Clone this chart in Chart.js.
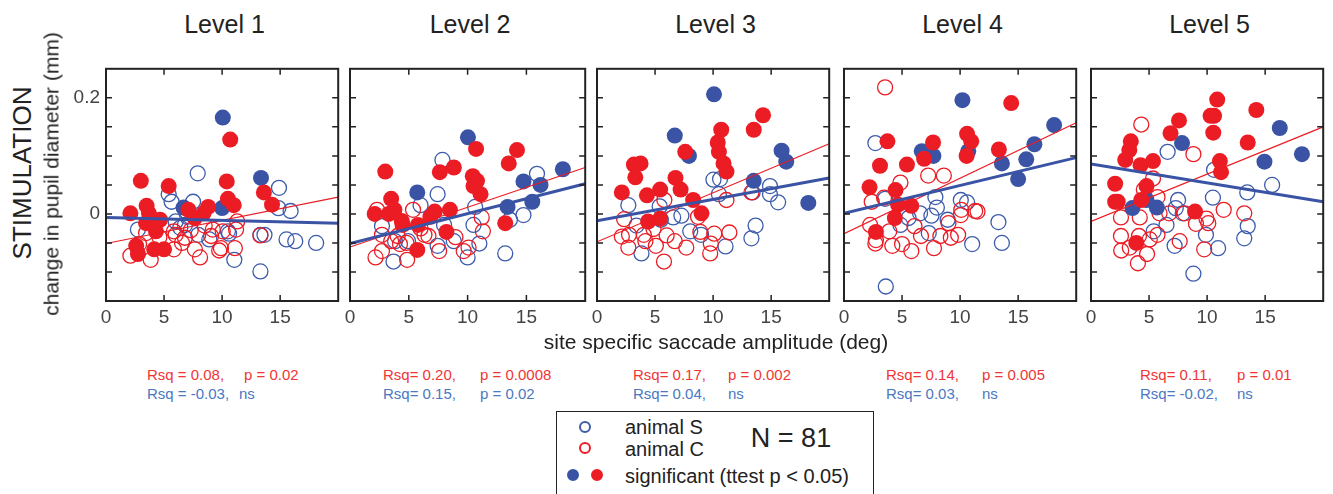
<!DOCTYPE html>
<html>
<head>
<meta charset="utf-8">
<script src="https://cdn.jsdelivr.net/npm/chart.js@4.4.1/dist/chart.umd.min.js"></script>
<style>
  body { margin: 0; background: #fff; font-family: "Liberation Sans", Arial, sans-serif; }
  #wrap { position: relative; width: 1333px; height: 494px; overflow: hidden; }
  canvas { position: absolute; }
  .txt { position: absolute; white-space: pre; color: #222; z-index: 2; }
  .mid { transform: translate(-50%, -50%); }
  .lft { transform: translateY(-50%); }
  .rot { transform: translate(-50%, -50%) rotate(-90deg); }
  #legend { position: absolute; left: 556px; top: 411px; width: 316px; height: 100px; border: 1.5px solid #222; background: #fff; z-index: 2; }
  .dot { position: absolute; width: 12px; height: 12px; border-radius: 50%; box-sizing: border-box; transform: translate(-50%, -50%); z-index: 3; }
</style>
</head>
<body>
<div id="wrap"><div id="legend"></div></div>
<script>
// panel titles
const levels = ['Level 1', 'Level 2', 'Level 3', 'Level 4', 'Level 5'];

// animal S (blue): open = not significant, sig = filled
const sOpen1 = [[7.9,0.070],[14.9,0.045],[5.4,0.034],[5.65,0.021],[7.5,0.021],[6.0,-0.013],[2.75,-0.027],[14.85,0.010],[15.9,0.005],[13.3,-0.036],[13.65,-0.036],[15.55,-0.044],[16.3,-0.047],[18.1,-0.050],[13.3,-0.099],[11.05,-0.079],[10.6,-0.034],[8.9,-0.044],[7.95,-0.036],[6.8,-0.019],[6.4,-0.024],[10.5,-0.030],[7.0,-0.005]];
const sSig1 = [[10.06,0.166],[13.35,0.062],[6.68,0.011],[10.0,0.010]];
const sOpen2 = [[7.86,0.093],[15.9,0.069],[7.45,0.034],[10.64,0.012],[10.5,-0.019],[14.75,-0.002],[13.6,-0.010],[2.72,-0.021],[6.0,0.015],[11.0,-0.051],[10.0,-0.075],[13.2,-0.068],[3.7,-0.082],[7.45,-0.055],[8.83,-0.047],[8.0,-0.019],[3.83,-0.047],[4.94,-0.047]];
const sSig2 = [[10.03,0.132],[5.72,0.037],[14.75,0.056],[16.2,0.050],[18.1,0.077],[13.4,0.012],[15.5,0.021]];
const sOpen3 = [[10.03,0.059],[10.6,0.060],[10.5,0.034],[13.4,0.037],[14.9,0.048],[14.9,0.034],[15.6,0.020],[2.7,0.015],[7.27,-0.003],[6.56,-0.006],[5.4,0.013],[13.66,-0.020],[13.3,-0.042],[11.07,-0.056],[3.83,-0.068],[8.03,-0.030],[8.96,-0.036],[3.4,-0.020],[5.5,-0.010]];
const sSig3 = [[10.08,0.206],[6.7,0.135],[7.92,0.100],[15.9,0.109],[16.3,0.090],[13.5,0.057],[18.2,0.019]];
const sOpen4 = [[2.7,0.122],[3.54,0.026],[7.87,0.029],[8.0,0.011],[10.06,0.024],[10.6,0.020],[7.53,-0.003],[6.55,0.001],[5.56,-0.007],[4.86,-0.019],[8.93,-0.010],[7.3,-0.033],[13.3,-0.014],[13.6,-0.050],[11.04,-0.052],[3.6,-0.125]];
const sSig4 = [[10.2,0.196],[18.1,0.153],[16.4,0.120],[15.7,0.094],[13.6,0.087],[15.0,0.060],[6.7,0.108],[7.7,0.100],[10.7,0.108]];
const sOpen5 = [[6.6,0.107],[10.6,0.076],[15.6,0.050],[13.46,0.037],[10.5,0.028],[7.5,0.024],[7.3,0.010],[7.9,0.001],[6.5,-0.019],[5.4,-0.030],[13.5,-0.021],[9.9,-0.036],[13.2,-0.042],[7.2,-0.055],[10.95,-0.059],[8.82,-0.103]];
const sSig5 = [[7.84,0.122],[16.26,0.148],[18.17,0.103],[14.94,0.090],[3.57,0.010],[5.67,0.011],[4.78,0.024]];

// animal C (red)
const cOpen1 = [[2.1,-0.072],[3.85,-0.079],[5.85,-0.061],[7.65,-0.061],[8.1,-0.075],[9.75,-0.063],[9.9,-0.059],[11.1,-0.059],[11.3,-0.013],[11.2,-0.027],[10.05,-0.030],[9.2,-0.027],[9.05,-0.038],[6.8,-0.041],[6.0,-0.036],[3.45,-0.033],[2.85,-0.052],[6.55,-0.050],[13.3,-0.037],[5.85,-0.030],[8.5,-0.020],[4.6,-0.040],[7.3,-0.028]];
const cSig1 = [[10.7,0.128],[3.0,0.057],[5.4,0.048],[10.4,0.056],[10.5,0.026],[11.0,0.015],[13.6,0.037],[14.3,0.016],[2.1,0.001],[3.5,0.014],[3.7,0.001],[4.65,-0.010],[3.45,-0.016],[4.3,-0.030],[2.6,-0.055],[2.75,-0.069],[4.15,-0.061],[5.0,-0.061],[7.1,0.007],[7.65,-0.007],[8.8,0.012],[8.4,0.001]];
const cOpen2 = [[2.17,-0.075],[2.72,-0.064],[4.86,-0.079],[7.58,-0.064],[9.67,-0.064],[10.08,-0.058],[11.3,-0.030],[11.2,-0.006],[2.3,0.007],[5.36,0.007],[4.05,-0.038],[4.25,-0.052],[4.8,-0.050],[6.33,-0.036],[6.67,-0.038],[8.97,-0.040],[2.72,-0.036],[3.5,-0.047],[6.0,-0.025]];
const cSig2 = [[10.72,0.112],[14.2,0.110],[13.5,0.087],[3.0,0.073],[7.64,0.072],[8.83,0.080],[10.44,0.065],[10.8,0.057],[10.5,0.048],[11.1,0.034],[3.5,0.026],[2.1,0.0],[3.3,0.0],[3.78,0.007],[4.4,-0.012],[4.47,-0.019],[5.78,-0.019],[7.2,0.004],[6.83,-0.005],[8.5,0.007],[8.2,-0.031],[5.72,-0.062],[13.2,-0.016]];
const cOpen3 = [[2.34,-0.009],[2.14,-0.039],[2.76,-0.036],[2.7,-0.058],[4.17,-0.047],[5.07,-0.055],[5.77,-0.082],[6.7,-0.047],[7.69,-0.058],[6.0,-0.037],[9.8,-0.051],[9.75,-0.068],[10.1,-0.034],[11.4,-0.032],[8.9,-0.031],[8.7,-0.005],[11.15,0.024],[13.3,0.037],[5.8,0.024],[4.87,-0.026],[4.03,-0.036]];
const cSig3 = [[14.3,0.170],[13.5,0.145],[10.7,0.145],[10.4,0.123],[10.5,0.107],[7.6,0.107],[10.9,0.087],[11.15,0.073],[3.18,0.085],[3.75,0.087],[3.3,0.063],[6.76,0.062],[7.2,0.042],[5.44,0.042],[2.14,0.037],[4.3,0.032],[8.28,0.024],[9.0,0.001],[4.4,-0.013],[5.44,-0.008]];
const cOpen4 = [[3.54,0.218],[7.25,0.066],[8.6,0.066],[4.86,0.054],[2.39,0.021],[3.45,0.028],[10.1,0.007],[11.3,0.005],[11.5,0.004],[10.06,-0.002],[9.0,-0.016],[2.25,-0.019],[3.9,-0.030],[2.7,-0.051],[4.16,-0.055],[5.0,-0.052],[5.8,-0.064],[7.75,-0.059],[6.63,-0.038],[8.3,-0.038],[9.2,-0.041],[9.83,-0.036],[6.07,-0.021],[2.75,-0.045]];
const cSig4 = [[14.4,0.191],[10.6,0.138],[10.96,0.125],[10.56,0.100],[13.34,0.111],[3.74,0.125],[7.67,0.123],[6.9,0.095],[3.1,0.083],[5.42,0.085],[2.2,0.046],[4.44,0.041],[4.66,0.016],[5.79,0.014],[4.38,-0.007],[2.75,-0.031]];
const cOpen5 = [[4.33,0.154],[8.82,0.103],[5.34,0.061],[4.55,0.042],[5.73,0.029],[2.58,-0.006],[4.2,-0.006],[5.9,0.001],[6.74,0.001],[8.06,0.001],[9.04,-0.017],[9.94,-0.008],[10.1,-0.016],[11.43,0.007],[13.2,0.001],[2.58,-0.038],[4.13,-0.038],[5.06,-0.044],[5.73,-0.036],[7.64,-0.047],[2.6,-0.063],[3.34,-0.058],[4.83,-0.069],[4.04,-0.085],[9.75,-0.061]];
const cSig5 = [[10.87,0.197],[10.6,0.169],[10.3,0.169],[10.53,0.140],[14.24,0.179],[7.58,0.161],[6.85,0.139],[3.43,0.125],[3.3,0.110],[2.95,0.093],[4.27,0.084],[5.34,0.091],[13.5,0.123],[11.1,0.091],[11.2,0.072],[2.08,0.052],[4.78,0.048],[2.08,0.021],[4.33,0.024],[8.96,0.004],[3.9,-0.050],[2.3,0.021]];

// regression lines: value at x=0 and x=20
const sFit = [[-0.006,-0.016],[-0.051,0.052],[-0.012,0.062],[0.001,0.097],[0.086,0.021]];
const cFit = [[-0.051,0.029],[-0.057,0.080],[-0.048,0.121],[-0.034,0.157],[-0.013,0.150]];

// stats under each panel
const cStats = [['Rsq = 0.08,','p = 0.02'],['Rsq= 0.20,','p = 0.0008'],['Rsq= 0.17,','p = 0.002'],['Rsq= 0.14,','p = 0.005'],['Rsq= 0.11,','p = 0.01']];
const sStats = [['Rsq = -0.03,','ns'],['Rsq= 0.15,','p = 0.02'],['Rsq= 0.04,','ns'],['Rsq= 0.03,','ns'],['Rsq= -0.02,','ns']];

const xTicks = { min: 0, max: 20, step: 5 };
const yTicks = { min: -0.15, max: 0.25, step: 0.05 };

const sData = [[sOpen1,sSig1],[sOpen2,sSig2],[sOpen3,sSig3],[sOpen4,sSig4],[sOpen5,sSig5]];
const cData = [[cOpen1,cSig1],[cOpen2,cSig2],[cOpen3,cSig3],[cOpen4,cSig4],[cOpen5,cSig5]];

const FONT = '"Liberation Sans", Arial, sans-serif';
const RED = '#ec1c24', BLUE = '#3a53a4', OPEN_BLUE = '#3d5cac';
const STAT_RED = '#ef3535', STAT_BLUE = '#4a78c2';
const panelLeft = [106, 350, 597, 844, 1091];
const panelW = [237, 240, 237, 237, 237];
const rsqX = [147, 383, 633, 886, 1140];
const pX = [244, 480, 728, 982, 1237];
const wrap = document.getElementById('wrap');

function addText(str, x, y, size, cls, color) {
  const d = document.createElement('div');
  d.className = 'txt ' + cls;
  d.textContent = str;
  d.style.left = x + 'px';
  d.style.top = y + 'px';
  d.style.fontSize = size + 'px';
  d.style.lineHeight = size + 'px';
  if (color) d.style.color = color;
  wrap.appendChild(d);
  return d;
}

function addDot(x, y, color, filled) {
  const d = document.createElement('div');
  d.className = 'dot';
  d.style.left = x + 'px';
  d.style.top = y + 'px';
  d.style.border = '2.5px solid ' + color;
  if (filled) d.style.background = color;
  wrap.appendChild(d);
}

const pts = arr => arr.map(p => ({ x: p[0], y: p[1] }));

// box with inward tick marks on all sides (matlab style)
const boxPlugin = {
  id: 'box',
  afterDraw(chart) {
    const { ctx, chartArea: a, scales } = chart;
    ctx.save();
    ctx.strokeStyle = '#222';
    ctx.lineWidth = 1.5;
    ctx.beginPath();
    scales.x.ticks.forEach(t => {
      if (t.value <= xTicks.min || t.value >= xTicks.max) return;
      const px = scales.x.getPixelForValue(t.value);
      ctx.moveTo(px, a.bottom); ctx.lineTo(px, a.bottom - 6);
      ctx.moveTo(px, a.top); ctx.lineTo(px, a.top + 6);
    });
    scales.y.ticks.forEach(t => {
      if (t.value <= yTicks.min + 1e-9 || t.value >= yTicks.max - 1e-9) return;
      const py = scales.y.getPixelForValue(t.value);
      ctx.moveTo(a.left, py); ctx.lineTo(a.left + 6, py);
      ctx.moveTo(a.right, py); ctx.lineTo(a.right - 6, py);
    });
    ctx.stroke();
    ctx.lineWidth = 2;
    ctx.strokeRect(a.left, a.top, a.right - a.left, a.bottom - a.top);
    ctx.restore();
  }
};

// keep the plot box exactly where the scale sizes say
const fixPad = s => { s.paddingTop = 0; s.paddingBottom = 0; s.paddingLeft = 0; s.paddingRight = 0; };

levels.forEach((name, i) => {
  const cv = document.createElement('canvas');
  const w = 50 + panelW[i] + 4, h = 4 + 237 + 34;
  cv.width = w; cv.height = h;
  cv.style.left = (panelLeft[i] - 50) + 'px';
  cv.style.top = '60px';
  wrap.appendChild(cv);

  const openDs = (arr, color) => ({
    data: pts(arr), pointRadius: 7.5, pointBorderWidth: 1.3,
    pointBorderColor: color, pointBackgroundColor: 'rgba(0,0,0,0)', showLine: false
  });
  const sigDs = (arr, color) => ({
    data: pts(arr), pointRadius: 8, pointBorderWidth: 0,
    pointBorderColor: color, pointBackgroundColor: color, showLine: false
  });
  const fitDs = (fit, color, width) => ({
    data: [{ x: xTicks.min, y: fit[0] }, { x: xTicks.max, y: fit[1] }],
    showLine: true, pointRadius: 0, borderColor: color, borderWidth: width
  });

  new Chart(cv, {
    type: 'scatter',
    data: {
      datasets: [
        Object.assign(fitDs(sFit[i], BLUE, 3), { order: 0 }),
        Object.assign(fitDs(cFit[i], RED, 1.2), { order: 1 }),
        Object.assign(sigDs(cData[i][1], RED), { order: 2 }),
        Object.assign(sigDs(sData[i][1], BLUE), { order: 3 }),
        Object.assign(openDs(cData[i][0], RED), { order: 4 }),
        Object.assign(openDs(sData[i][0], OPEN_BLUE), { order: 5 })
      ]
    },
    options: {
      responsive: false,
      animation: false,
      layout: { padding: { top: 4, right: 4, left: 0, bottom: 0 } },
      plugins: { legend: { display: false }, tooltip: { enabled: false } },
      scales: {
        x: {
          type: 'linear', min: xTicks.min, max: xTicks.max,
          grid: { display: false, drawTicks: false }, border: { display: false },
          ticks: {
            stepSize: xTicks.step, padding: 5, color: '#444', autoSkip: false, maxRotation: 0,
            font: { family: FONT, size: 19 },
            callback: v => (v >= xTicks.max ? '' : v)
          },
          afterFit: s => { s.height = 34; fixPad(s); }
        },
        y: {
          min: yTicks.min, max: yTicks.max,
          grid: { display: false, drawTicks: false }, border: { display: false },
          ticks: {
            stepSize: yTicks.step, padding: 6, color: '#444', autoSkip: false,
            font: { family: FONT, size: 19 },
            callback: v => {
              if (i !== 0) return '';
              if (Math.abs(v) < 1e-9) return '0';
              if (Math.abs(v - 0.2) < 1e-9) return '0.2';
              return '';
            }
          },
          afterFit: s => { s.width = 50; fixPad(s); }
        }
      }
    },
    plugins: [boxPlugin]
  });

  addText(name, panelLeft[i] + panelW[i] / 2, 24, 25, 'mid');
  addText(cStats[i][0], rsqX[i], 374, 15, 'lft', STAT_RED);
  addText(cStats[i][1], pX[i], 374, 15, 'lft', STAT_RED);
  addText(sStats[i][0], rsqX[i], 393, 15, 'lft', STAT_BLUE);
  addText(sStats[i][1], i === 0 ? 239 : pX[i], 393, 15, 'lft', STAT_BLUE);
});

// axis titles
addText('STIMULATION', 22, 173, 26, 'rot');
addText('change in pupil diameter (mm)', 51, 174, 21, 'rot');
addText('site specific saccade amplitude (deg)', 716, 341, 21, 'mid');

// legend
addDot(585, 427, OPEN_BLUE, false);
addDot(585, 448, RED, false);
addDot(573, 475, BLUE, true);
addDot(597, 475, RED, true);
addText('animal S', 625, 427, 20, 'lft');
addText('animal C', 625, 449, 20, 'lft');
addText('significant (ttest p < 0.05)', 625, 476, 20, 'lft');
addText('N = 81', 791, 438, 27, 'mid');
</script>
</body>
</html>
